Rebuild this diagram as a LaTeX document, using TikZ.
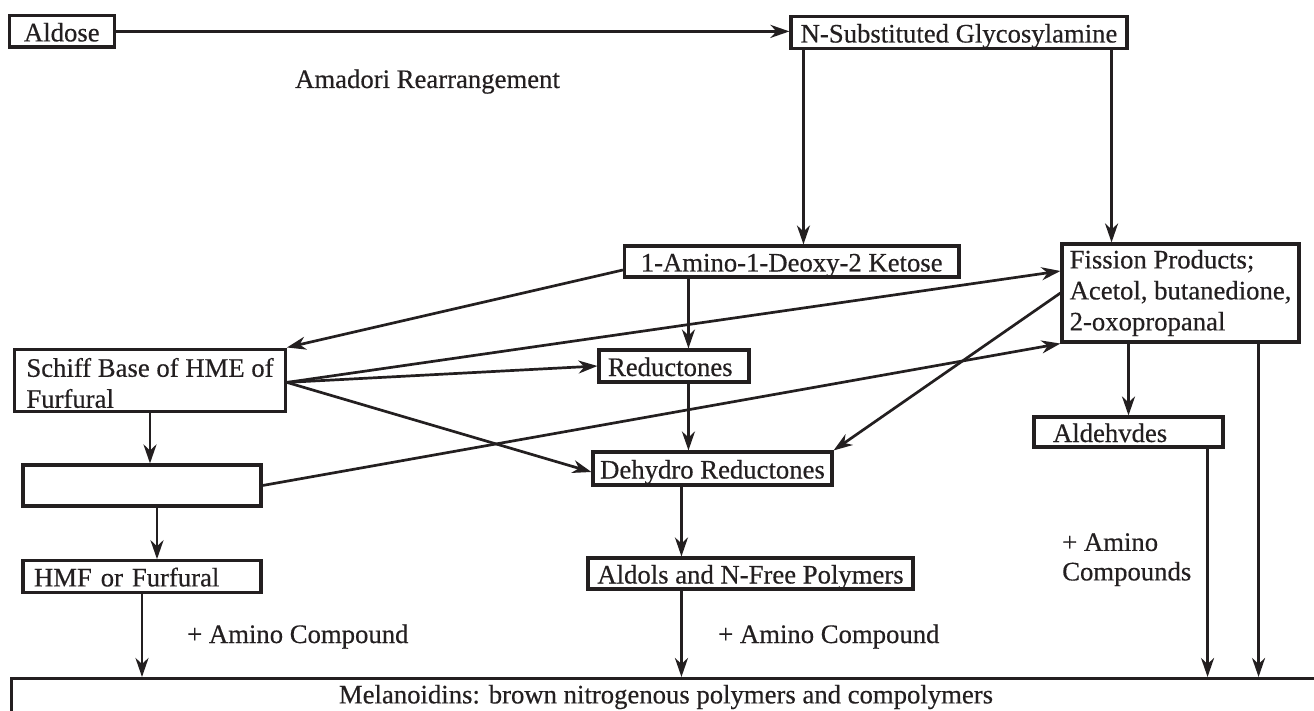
\documentclass[tikz,border=0pt]{standalone}
\usepackage{fontspec}
\setmainfont{Liberation Serif}[FakeBold=0.45]
\usetikzlibrary{arrows.meta,calc}
\definecolor{ink}{HTML}{231F20}
\begin{document}
\begin{tikzpicture}[x=1pt,y=-1pt,
  every node/.style={font=\fontsize{26.7}{31}\selectfont, inner sep=0pt, text=ink},
  box/.style={draw=ink, line width=3.1pt, text height=20pt, text depth=0pt},
  mbox/.style={draw=ink, line width=3.1pt},
  arr/.style={draw=ink, line width=2.7pt, -{Stealth[length=19pt,width=13pt,inset=6pt]}}]
\useasboundingbox (0,0) rectangle (1314,711);
% boxes
\node[box, minimum width=105.5pt, minimum height=31.3pt] (aldose) at (61.8,31.4) {Aldose};
\node[box, minimum width=336pt, minimum height=31.6pt] (nsub) at (959,32.5) {N-Substituted Glycosylamine};
\node[box, minimum width=334.5pt, minimum height=31pt] (amino1) at (791.7,261.5) {1-Amino-1-Deoxy-2 Ketose};
\node[mbox, align=left, minimum width=237pt, minimum height=98pt] (fission) at (1180.5,293) {Fission Products;\\Acetol, butanedione,\\2-oxopropanal};
\node[mbox, align=left, minimum width=270.7pt, minimum height=62.7pt] (schiff) at (150,380.4) {\rule{0pt}{24pt}Schiff Base of HME of\\Furfural};
\node[box, text width=132pt, align=left, minimum width=150pt, minimum height=32pt] (reduct) at (674,366) {Reductones};
\node[box, minimum width=239pt, minimum height=33pt] (dehydro) at (712.5,468.5) {Dehydro Reductones};
\node[box, minimum width=325pt, minimum height=31pt] (aldols) at (750.5,573.5) {Aldols and N-Free Polymers};
\node[box, text width=151pt, align=left, minimum width=189pt, minimum height=30pt] (aldeh) at (1128.5,432) {Aldehvdes};
\node[box, minimum width=238pt, minimum height=41pt] (empty) at (142,485.5) {};
\node[box, text width=216pt, align=left, minimum width=238pt, minimum height=31.3pt] (hmf) at (142,576.4) {HMF or Furfural};
\node[draw=ink, line width=2.8pt, text height=20pt, text depth=20pt, minimum width=1308.4pt, minimum height=50pt, anchor=north] (mel) at (666,677) {Melanoidins: brown nitrogenous polymers and compolymers};
% labels
\node[anchor=base] (amadori) at (427.5,88) {Amadori Rearrangement};
\node[anchor=base west] (plusa) at (187,643) {+ Amino Compound};
\node[anchor=base west] (plusb) at (718,643) {+ Amino Compound};
\node[anchor=north west, align=left] (plusc) at (1062,530.7) {\rule{0pt}{20pt}+ Amino\\[-1.5pt]Compounds};
% helper coordinates
\coordinate (p1) at ([xshift=14pt]nsub.south west);
\coordinate (p2) at ([xshift=-17pt]nsub.south east);
\coordinate (p3) at ([xshift=91pt]reduct.north west);
\coordinate (p4) at ([xshift=90pt]dehydro.south west);
\coordinate (p5) at ([xshift=15pt]empty.south);
\coordinate (p6) at ([xshift=-17pt]aldeh.south east);
\coordinate (p7) at ([xshift=-42pt]fission.south east);
% connectors
\draw[arr] (aldose.east) -- (aldose.east -| nsub.west);
\draw[arr] (p1) -- (p1 |- amino1.north);
\draw[arr] (p2) -- (p2 |- fission.north);
\draw[arr] ([yshift=-8.5pt]amino1.west) -- (schiff.north east);
\draw[arr] (p3 |- amino1.south) -- (p3);
\draw[arr] (p3 |- reduct.south) -- (p3 |- dehydro.north);
\draw[arr] ([yshift=-2pt]schiff.east) -- ([yshift=22pt]fission.west);
\draw[arr] ([yshift=-2pt]schiff.east) -- (reduct.west);
\draw[arr] ([yshift=-2pt]schiff.east) -- ([yshift=-3.5pt]dehydro.west);
\draw[arr] (fission.west) -- (dehydro.north east);
\draw[arr] (empty.east) -- (fission.south west);
\draw[arr] (schiff.south) -- (schiff.south |- empty.north);
\draw[arr] (p5) -- (p5 |- hmf.north);
\draw[arr] (hmf.south) -- (hmf.south |- mel.north);
\draw[arr] (p4) -- (p4 |- aldols.north);
\draw[arr] (p4 |- aldols.south) -- (p4 |- mel.north);
\draw[arr] (aldeh.north |- fission.south) -- (aldeh.north);
\draw[arr] (p6) -- (p6 |- mel.north);
\draw[arr] (p7) -- (p7 |- mel.north);
\end{tikzpicture}
\end{document}
